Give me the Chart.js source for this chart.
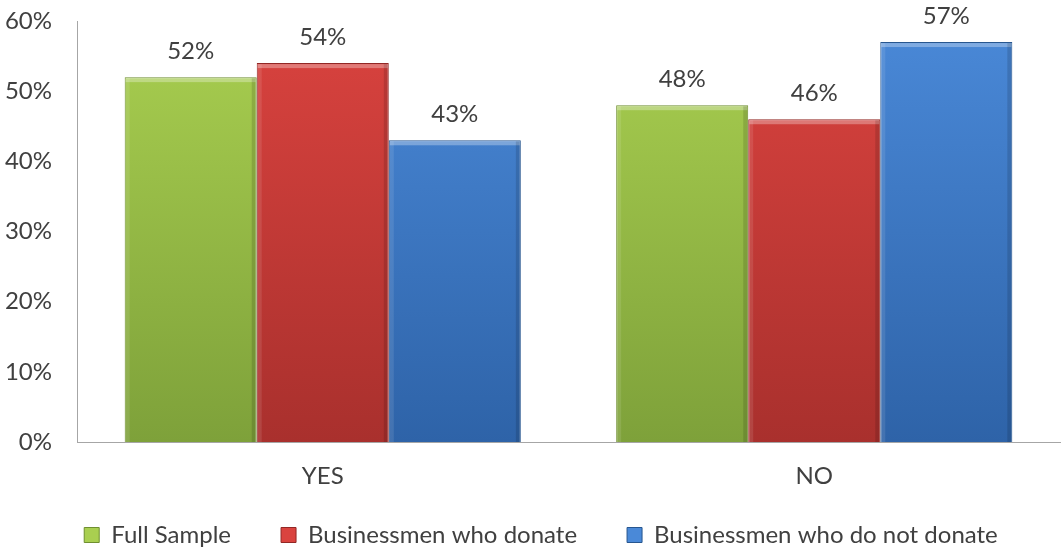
<!DOCTYPE html>
<html>
<head>
<meta charset="utf-8">
<script src="https://cdn.jsdelivr.net/npm/chart.js@4"></script>
<style>
  html, body { margin: 0; padding: 0; background: #fff; }
  #wrap { width: 1064px; height: 550px; position: relative; }
</style>
</head>
<body>
<div id="wrap"><canvas id="chart"></canvas></div>
<script>
/* ── Data ─────────────────────────────────────────────── */
const CATEGORIES    = ['YES', 'NO'];
const FULL_SAMPLE   = [52, 48];
const DONATE        = [54, 46];
const NOT_DONATE    = [43, 57];
const Y_TICKS       = [0, 10, 20, 30, 40, 50, 60];

const SERIES = [
  { label: 'Full Sample',                   data: FULL_SAMPLE, top: '#a9cf50', bot: '#7ea13a', edge: '#6f8f30' },
  { label: 'Businessmen who donate',        data: DONATE,      top: '#da433f', bot: '#a9302d', edge: '#922725' },
  { label: 'Businessmen who do not donate', data: NOT_DONATE,  top: '#4a89d8', bot: '#2e63a8', edge: '#27568f' },
];

const FONT = 'Lato, "Open Sans", sans-serif';
const TXT  = '#404040';

// legend: keep wide gaps between items but not the tall empty band above them
const LEGEND_TRIM  = 19;
const LEGEND_SHIFT = 11;

function fillFor(s) {
  return ctx => {
    const area = ctx.chart.chartArea;
    if (!area) return s.top;
    const g = ctx.chart.ctx.createLinearGradient(0, area.top, 0, area.bottom);
    g.addColorStop(0, s.top);
    g.addColorStop(1, s.bot);
    return g;
  };
}

/* value labels above bars + a little bevel shading */
const barLabels = {
  id: 'barLabels',
  afterDatasetsDraw(chart) {
    const { ctx } = chart;
    chart.data.datasets.forEach((ds, di) => {
      chart.getDatasetMeta(di).data.forEach((bar, i) => {
        const w = bar.width, x0 = bar.x - w / 2, h = bar.base - bar.y;
        ctx.save();
        ctx.fillStyle = 'rgba(255,255,255,0.30)';
        ctx.fillRect(x0 + 1, bar.y + 1, w - 2, 4);
        ctx.fillStyle = 'rgba(0,0,0,0.13)';
        ctx.fillRect(x0 + w - 5, bar.y + 1, 4, h - 1);
        ctx.fillStyle = 'rgba(255,255,255,0.10)';
        ctx.fillRect(x0 + 1, bar.y + 1, 4, h - 1);
        ctx.restore();

        ctx.save();
        ctx.font = '24px ' + FONT;
        ctx.fillStyle = TXT;
        ctx.textAlign = 'center';
        ctx.textBaseline = 'alphabetic';
        ctx.fillText(ds.data[i] + '%', bar.x, bar.y - 18);
        ctx.restore();
      });
    });
  }
};

const legendTrim = {
  id: 'legendTrim',
  afterInit(chart) {
    const lg = chart.legend;
    if (!lg) return;
    const fit = lg.fit.bind(lg);
    lg.fit = function () { fit(); this.height -= LEGEND_TRIM; };
    lg.draw = function () {
      if (!this.options.display) return;
      const c = this.ctx;
      c.save();
      c.translate(LEGEND_SHIFT, -LEGEND_TRIM);
      this._draw();
      c.restore();
    };
  }
};

new Chart(document.getElementById('chart'), {
  type: 'bar',
  data: {
    labels: CATEGORIES,
    datasets: SERIES.map(s => ({
      label: s.label,
      data: s.data,
      backgroundColor: fillFor(s),
      borderColor: s.edge,
      borderWidth: 1,
      categoryPercentage: 0.806,
      barPercentage: 1.0,
    })),
  },
  options: {
    responsive: true,
    maintainAspectRatio: false,
    animation: false,
    layout: { padding: { top: 0, right: 4, left: 0, bottom: -7 } },
    plugins: {
      legend: {
        position: 'bottom',
        labels: {
          font: { family: FONT, size: 24 },
          color: TXT,
          boxWidth: 15,
          boxHeight: 15,
          padding: 50,
          generateLabels() {
            return SERIES.map((s, i) => ({
              text: s.label,
              fillStyle: s.top,
              strokeStyle: s.edge,
              fontColor: TXT,
              lineWidth: 1,
              datasetIndex: i,
            }));
          },
        },
      },
      tooltip: { enabled: false },
    },
    scales: {
      x: {
        grid: { display: false, drawTicks: false },
        border: { color: '#a6a6a6', width: 1 },
        ticks: { font: { family: FONT, size: 24 }, color: TXT, padding: 20 },
        afterFit: scale => { scale.height = 50; },
      },
      y: {
        min: 0,
        max: 60,
        afterBuildTicks: axis => { axis.ticks = Y_TICKS.map(v => ({ value: v })); },
        afterFit: scale => {
          scale.width = 77;
          scale.paddingTop = 21;
          scale.paddingBottom = 0;
        },
        grid: { display: false, drawTicks: false },
        border: { color: '#a6a6a6', width: 1 },
        ticks: {
          font: { family: FONT, size: 24 },
          color: TXT,
          padding: 25,
          callback: v => v + '%',
        },
      },
    },
  },
  plugins: [barLabels, legendTrim],
});
</script>
</body>
</html>
